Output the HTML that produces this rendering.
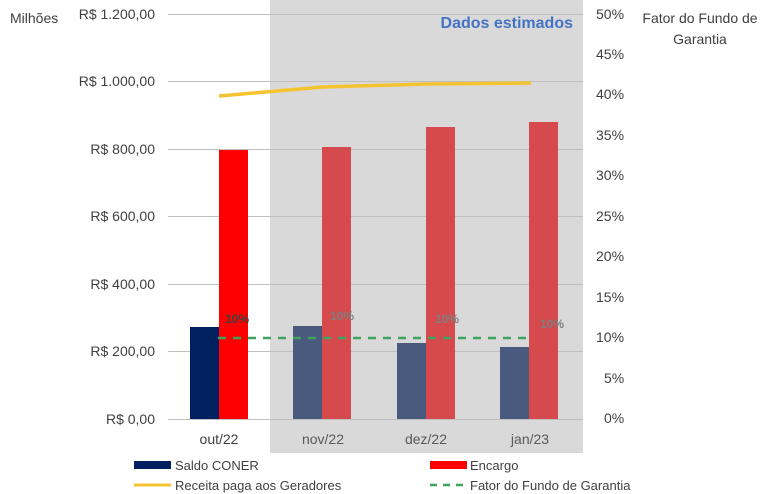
<!DOCTYPE html>
<html><head><style>body{margin:0;background:#fff}svg{display:block}text{font-family:"Liberation Sans",sans-serif}</style></head>
<body>
<svg width="773" height="494" viewBox="0 0 773 494" xmlns="http://www.w3.org/2000/svg">
<rect x="270" y="0" width="313" height="453" fill="#d9d9d9"/>
<g stroke="#bfbfbf" stroke-width="1">
<line x1="168" x2="583" y1="14.5" y2="14.5"/><line x1="168" x2="583" y1="81.5" y2="81.5"/>
<line x1="168" x2="583" y1="149.5" y2="149.5"/><line x1="168" x2="583" y1="216.5" y2="216.5"/>
<line x1="168" x2="583" y1="284.5" y2="284.5"/><line x1="168" x2="583" y1="351.5" y2="351.5"/>
<line x1="168" x2="583" y1="419.5" y2="419.5"/>
</g>
<g font-size="14" fill="#404040" text-anchor="end">
<text x="155" y="19">R$ 1.200,00</text><text x="155" y="86">R$ 1.000,00</text>
<text x="155" y="154">R$ 800,00</text><text x="155" y="221">R$ 600,00</text>
<text x="155" y="289">R$ 400,00</text><text x="155" y="356">R$ 200,00</text>
<text x="155" y="424">R$ 0,00</text>
</g>
<text x="10" y="23" font-size="14" fill="#404040">Milhões</text>
<g font-size="14" fill="#404040">
<text x="596" y="19">50%</text><text x="596" y="59">45%</text><text x="596" y="99">40%</text>
<text x="596" y="140">35%</text><text x="596" y="180">30%</text><text x="596" y="221">25%</text>
<text x="596" y="261">20%</text><text x="596" y="302">15%</text><text x="596" y="342">10%</text>
<text x="604" y="383">5%</text><text x="604" y="423">0%</text>
</g>
<text x="700" y="23" font-size="14" fill="#404040" text-anchor="middle">Fator do Fundo de</text>
<text x="700" y="44" font-size="14" fill="#404040" text-anchor="middle">Garantia</text>
<text x="573" y="28" font-size="16" font-weight="bold" fill="#4472c4" text-anchor="end">Dados estimados</text>
<rect x="190" y="327" width="29" height="92" fill="#002060"/>
<rect x="219" y="150" width="29" height="269" fill="#ff0000"/>
<rect x="293" y="326" width="29" height="93" fill="#4a5a7e"/>
<rect x="322" y="147" width="29" height="272" fill="#d6494c"/>
<rect x="397" y="343" width="29" height="76" fill="#4a5a7e"/>
<rect x="426" y="127" width="29" height="292" fill="#d6494c"/>
<rect x="500" y="347" width="29" height="72" fill="#4a5a7e"/>
<rect x="529" y="122" width="29" height="297" fill="#d6494c"/>
<polyline points="219,96 323,87 427,84 531,83" fill="none" stroke="#f4c430" stroke-width="3.5" stroke-linejoin="round"/>
<line x1="218" y1="338" x2="531" y2="338" stroke="#3ea35e" stroke-width="2.5" stroke-dasharray="8,7"/>
<g font-size="12" font-weight="bold" fill="#7f7f7f">
<text x="225" y="323" fill="#404040">10%</text><text x="330" y="320">10%</text>
<text x="435" y="323">10%</text><text x="540" y="328">10%</text>
</g>
<g font-size="14" fill="#404040" text-anchor="middle">
<text x="219" y="444">out/22</text><text x="323" y="444" fill="#595959">nov/22</text>
<text x="426" y="444" fill="#595959">dez/22</text><text x="530" y="444" fill="#595959">jan/23</text>
</g>
<rect x="134" y="461" width="37" height="8" fill="#002060"/>
<text x="175" y="470" font-size="13" fill="#404040">Saldo CONER</text>
<rect x="430" y="461" width="37" height="8" fill="#ff0000"/>
<text x="470" y="470" font-size="13" fill="#404040">Encargo</text>
<line x1="134" y1="485" x2="171" y2="485" stroke="#f4c430" stroke-width="3"/>
<text x="175" y="490" font-size="13" fill="#404040">Receita paga aos Geradores</text>
<line x1="430" y1="485" x2="467" y2="485" stroke="#3ea35e" stroke-width="2.5" stroke-dasharray="7,6"/>
<text x="470" y="490" font-size="13" fill="#404040">Fator do Fundo de Garantia</text>
</svg>
</body></html>
